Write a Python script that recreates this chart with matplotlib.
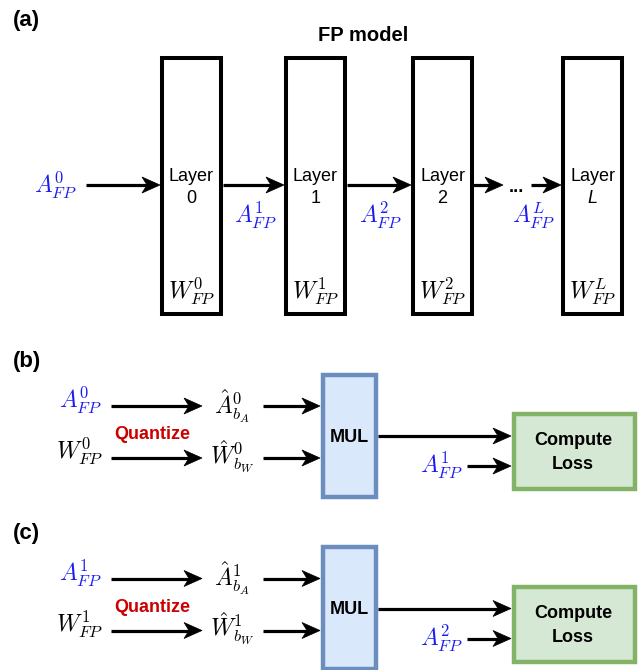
import matplotlib
matplotlib.use("Agg")
import matplotlib.pyplot as plt
from matplotlib.patches import Rectangle, Polygon

plt.rcParams['font.family'] = ['Liberation Sans', 'DejaVu Sans']
plt.rcParams['mathtext.fontset'] = 'cm'

# ---------------- content ----------------
panel_labels = ["(a)", "(b)", "(c)"]
title_a = "FP model"
layer_ids = ["0", "1", "2", "L"]
act_labels_a = [r"$A^{0}_{FP}$", r"$A^{1}_{FP}$", r"$A^{2}_{FP}$", r"$A^{L}_{FP}$"]
weight_labels_a = [r"$W^{0}_{FP}$", r"$W^{1}_{FP}$", r"$W^{2}_{FP}$", r"$W^{L}_{FP}$"]
quant_in_act = [r"$A^{0}_{FP}$", r"$A^{1}_{FP}$"]
quant_in_w = [r"$W^{0}_{FP}$", r"$W^{1}_{FP}$"]
quant_out_act = [r"$\hat{A}^{0}_{b_A}$", r"$\hat{A}^{1}_{b_A}$"]
quant_out_w = [r"$\hat{W}^{0}_{b_W}$", r"$\hat{W}^{1}_{b_W}$"]
target_act = [r"$A^{1}_{FP}$", r"$A^{2}_{FP}$"]
quant_text = "Quantize"
mul_text = "MUL"
loss_text = ["Compute", "Loss"]

# ---------------- layout (pixel coordinates) ----------------
W, H = 642, 670
BLUE = "#1c1cf2"
RED = "#cc0000"
MUL_FACE, MUL_EDGE = "#dae8fc", "#6c8ebf"
LOSS_FACE, LOSS_EDGE = "#d5e8d4", "#82b366"

box_left = [160, 284, 411, 561]
box_w, box_top, box_bot = 63, 56, 316
arrow_y_a = 185
arrows_a = [(86, 160), (223, 284), (347, 411), (473, 503), (531, 561)]
act_pos_a = [(55, 193), (255, 223), (380, 223), (533, 223)]

row_shift = [0, 172.5]

fig = plt.figure(figsize=(W / 100, H / 100), dpi=100)
ax = fig.add_axes([0, 0, 1, 1])
ax.set_xlim(0, W)
ax.set_ylim(H, 0)
ax.axis("off")

MATH = 17
LW_ARROW = 2.3


def arrow(x0, x1, y, L=18, Wd=16, N=5, color="black"):
    ax.plot([x0, x1 - L + N + 1], [y, y], color=color, lw=LW_ARROW,
            solid_capstyle="butt", zorder=3)
    ax.add_patch(Polygon([(x1, y), (x1 - L, y - Wd / 2), (x1 - L + N, y),
                          (x1 - L, y + Wd / 2)], closed=True,
                         facecolor=color, edgecolor=color, lw=0.5, zorder=4))


# ---------------- panel (a) ----------------
ax.text(13, 26, panel_labels[0], fontsize=16, fontweight="bold", va="baseline", ha="left")
ax.text(363, 41, title_a, fontsize=14.5, fontweight="bold", va="baseline", ha="center")

for i, xl in enumerate(box_left):
    ax.add_patch(Rectangle((xl + 2, box_top + 2), box_w - 4, box_bot - box_top - 4,
                           facecolor="white", edgecolor="black", lw=2.9, zorder=2))
    cx = xl + box_w / 2
    ax.text(cx, 181, "Layer", fontsize=13, ha="center", va="baseline", zorder=5)
    ax.text(cx, 203, layer_ids[i], fontsize=13, ha="center", va="baseline", zorder=5,
            style="italic" if layer_ids[i] == "L" else "normal")
    ax.text(cx, 299, weight_labels_a[i], fontsize=MATH, ha="center", va="baseline", zorder=5)

for (x0, x1) in arrows_a:
    arrow(x0, x1, arrow_y_a)
ax.text(516, 192, "...", fontsize=13, fontweight="bold", ha="center", va="baseline")

for lab, (x, y) in zip(act_labels_a, act_pos_a):
    ax.text(x, y, lab, fontsize=MATH, color=BLUE, ha="center", va="baseline")

# ---------------- panels (b), (c) ----------------
for k, dy in enumerate(row_shift):
    ax.text(13, 367 + dy, panel_labels[k + 1], fontsize=16, fontweight="bold",
            va="baseline", ha="left")
    # inputs
    ax.text(80, 408 + dy, quant_in_act[k], fontsize=MATH, color=BLUE, ha="center", va="baseline")
    ax.text(80, 459 + dy, quant_in_w[k], fontsize=MATH, color="black", ha="center", va="baseline")
    arrow(111, 202, 406 + dy)
    arrow(111, 202, 458 + dy)
    ax.text(152, 439 + dy, quant_text, fontsize=13, fontweight="bold", color=RED,
            ha="center", va="baseline")
    # quantized
    ax.text(232, 414 + dy, quant_out_act[k], fontsize=MATH, ha="center", va="baseline")
    ax.text(232, 464 + dy, quant_out_w[k], fontsize=MATH, ha="center", va="baseline")
    arrow(263, 320, 406 + dy)
    arrow(263, 320, 458 + dy)
    # MUL box
    ax.add_patch(Rectangle((322.5, 374.5 + dy), 53, 122, facecolor=MUL_FACE,
                           edgecolor=MUL_EDGE, lw=3.2, zorder=2))
    ax.text(349, 442 + dy, mul_text, fontsize=13, fontweight="bold", ha="center",
            va="baseline", zorder=5)
    arrow(378, 511, 436 + dy)
    # Loss box
    ax.add_patch(Rectangle((513.5, 414 + dy), 121.5, 75, facecolor=LOSS_FACE,
                           edgecolor=LOSS_EDGE, lw=3.2, zorder=2))
    ax.text(573, 445 + dy, loss_text[0], fontsize=13, fontweight="bold", ha="center",
            va="baseline", zorder=5)
    ax.text(573, 469 + dy, loss_text[1], fontsize=13, fontweight="bold", ha="center",
            va="baseline", zorder=5)
    ax.text(441, 473 + dy, target_act[k], fontsize=MATH, color=BLUE, ha="center", va="baseline")
    arrow(467, 511, 466 + dy)

fig.savefig("out.png", dpi=100)
